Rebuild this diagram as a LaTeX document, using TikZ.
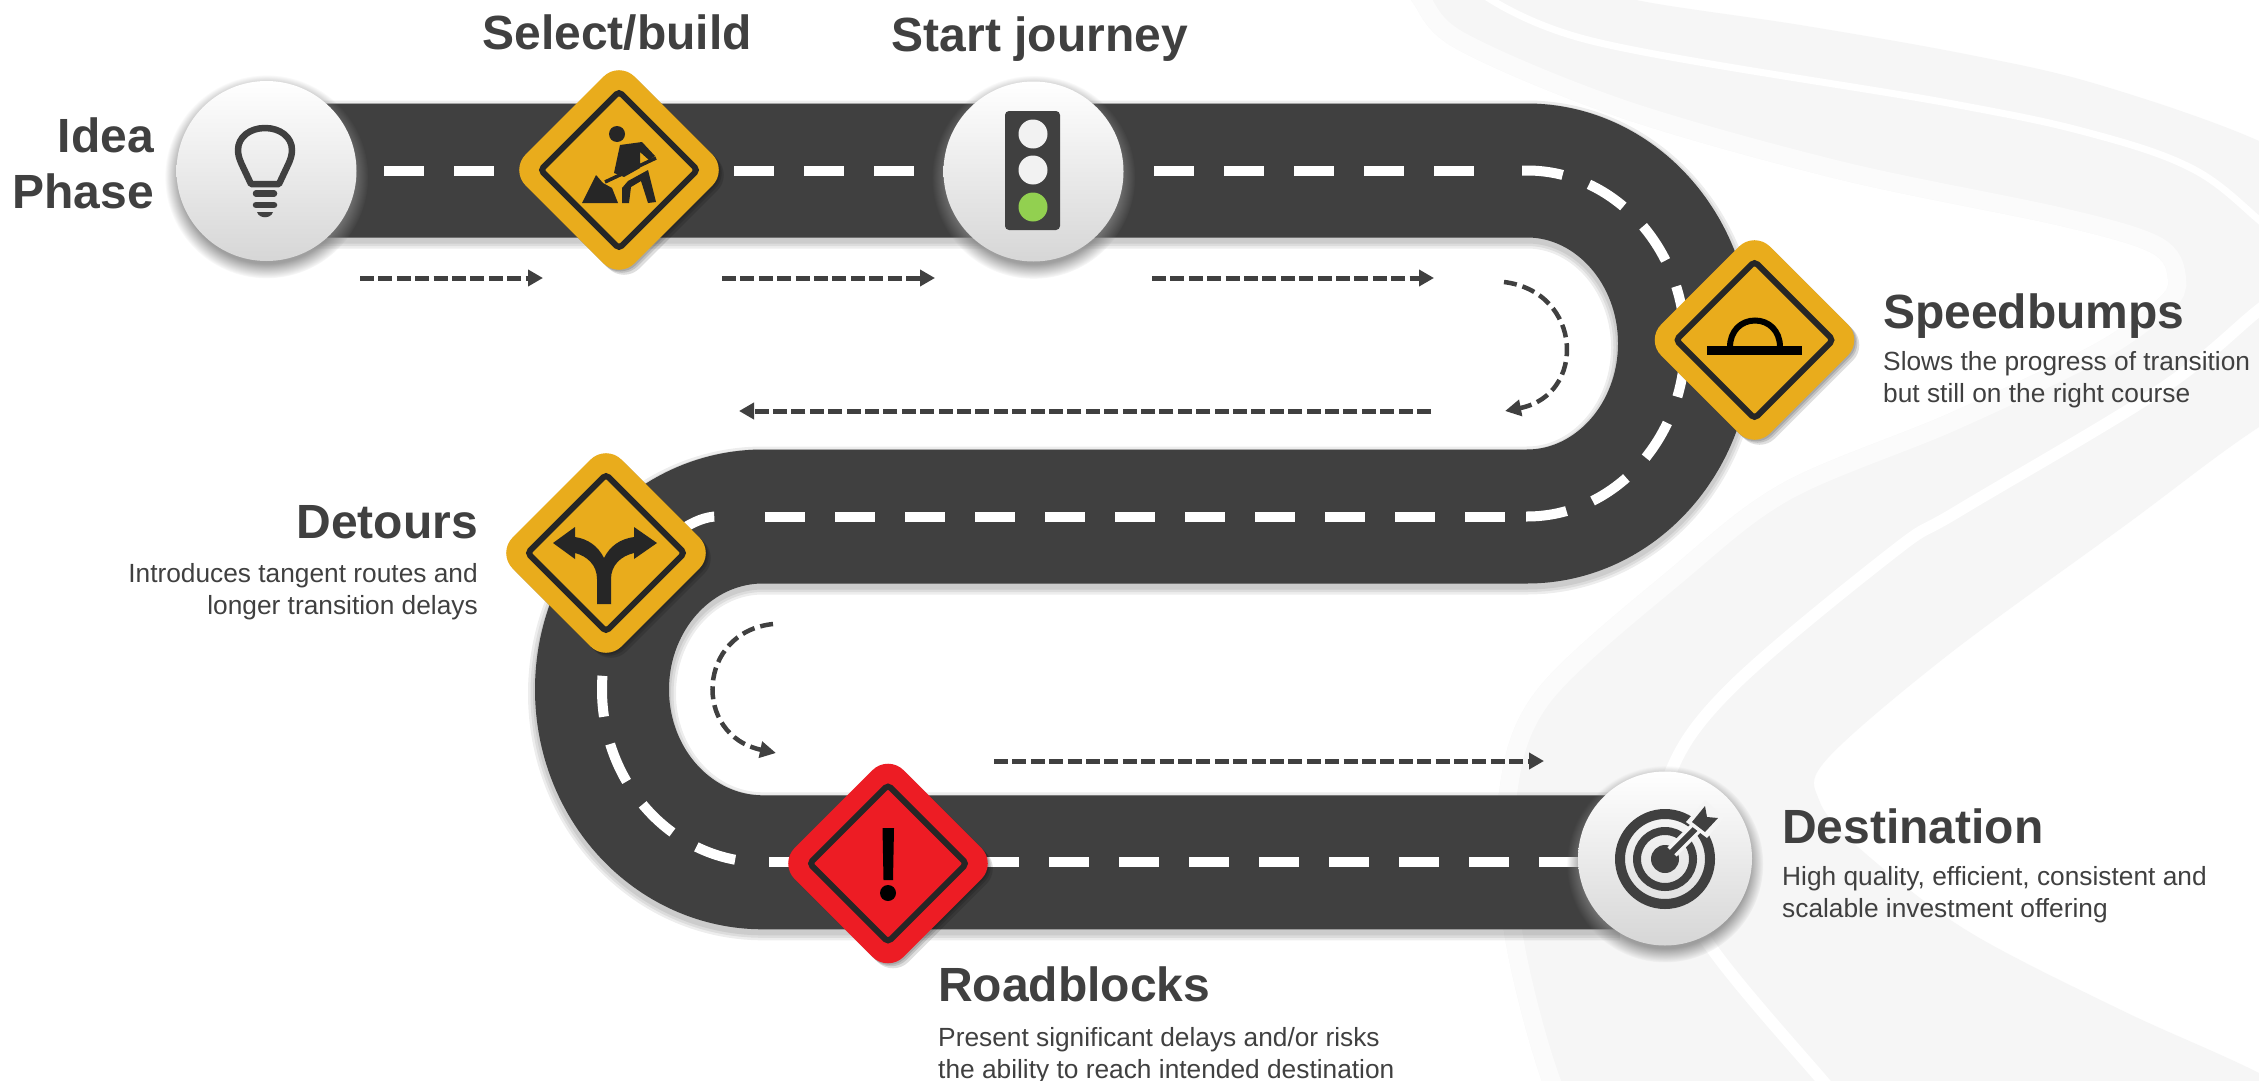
\documentclass[tikz,border=0pt]{standalone}
\usepackage{fontspec}
\setmainfont{Liberation Sans}
\usetikzlibrary{arrows.meta,shadows}
\definecolor{roadgray}{HTML}{404040}
\definecolor{bandgray}{HTML}{F6F6F6}
\definecolor{bandpale}{HTML}{FBFBFB}
\definecolor{signyellow}{HTML}{E9AC1C}
\definecolor{signred}{HTML}{ED1C24}
\definecolor{signdark}{HTML}{262626}
\definecolor{lampgreen}{HTML}{92D050}
\begin{document}
\begin{tikzpicture}[
  x=1pt,y=-1pt,
  band/.style={fill=bandgray,draw=none},
  bandline/.style={draw=white,line cap=round},
  roadbed/.style={draw=roadgray,line width=134pt},
  roadshade/.style={draw=black,opacity=0.07},
  lane/.style={draw=white,line width=10pt,dash pattern=on 40pt off 30pt},
  curvelane/.style={draw=white,line width=10pt,dash pattern=on 41pt off 28pt},
  softshadow/.style={general shadow={fill=black,opacity=0.13,shadow xshift=#1pt,shadow yshift=-#1pt}},
  signbox/.style={rectangle,rotate=45,minimum size=154pt,inner sep=0pt,rounded corners=22pt,fill=#1,softshadow=1.5,softshadow=3,softshadow=5},
  signline/.style={rectangle,rotate=45,minimum size=111pt,inner sep=0pt,rounded corners=4pt,draw=signdark,line width=6pt},
  disc/.style={circle,minimum size=180pt,inner sep=0pt,top color=white,bottom color=black!16,
    circular drop shadow={shadow xshift=0pt,shadow yshift=-5pt,shadow scale=1.13,opacity=0.75}},
  flowarrow/.style={draw=roadgray,line width=5pt,dash pattern=on 14pt off 4.4pt,-{Triangle[length=15pt,width=16pt]}},
  turnarrow/.style={draw=roadgray,line width=4.5pt,dash pattern=on 13pt off 6pt,-{Triangle[length=16pt,width=16pt]}},
  iconline/.style={draw=roadgray,line width=6.5pt},
  title/.style={font=\fontsize{48}{56}\selectfont\bfseries,text=roadgray,inner sep=0pt},
  subtext/.style={font=\fontsize{26.3}{32}\selectfont,text=roadgray,inner sep=0pt}
]
\useasboundingbox (0,0) rectangle (2259,1081);
\fill[white] (0,0) rectangle (2259,1081);

\def\roadline{(266,170.5) -- (1527,170.5) .. controls (1614,170.5) and (1685,248) .. (1685,343.5)
  .. controls (1685,439) and (1614,516.5) .. (1527,516.5) -- (763,516.5)
  .. controls (674,516.5) and (602,594) .. (602,689.5) .. controls (602,785) and (674,862.3) .. (763,862.3) -- (1620,862.3)}
\def\ribbon{plot[smooth cycle,tension=0.55] coordinates {(1560,-25) (1636,0) (1800,25) (1960,53) (2093,83) (2259,141) (2400,220)
  (2420,330) (2259,427) (2127,524) (1948,655) (1827,759) (1819,800) (1858,847) (1966,930) (2121,1010) (2259,1073) (2400,1150)
  (1590,1170) (1542,1081) (1504,931) (1499,793) (1537,690) (1674,566) (1783,483) (1948,414) (2093,345) (2157,300) (2168,279)
  (2150,252) (2057,225) (1838,179) (1619,117) (1455,48) (1411,0) (1390,-30)}}

% background ribbon
\begin{scope}
\clip (0,0) rectangle (2259,1081);
\fill[band] \ribbon;
\begin{scope}
\clip \ribbon;
\draw[bandpale,line width=36pt] plot[smooth,tension=0.55] coordinates {(1590,1170) (1542,1081) (1504,931) (1499,793) (1537,690) (1674,566) (1783,483) (1948,414) (2093,345) (2157,300) (2168,279)
  (2150,252) (2057,225) (1838,179) (1619,117) (1455,48) (1411,0) (1390,-30)};
\end{scope}
\draw[bandline,line width=7pt] plot[smooth,tension=0.6] coordinates {(1470,-15) (1592,41) (1948,103) (2093,134) (2193,169) (2259,220) (2300,260)};
\draw[bandline,line width=12pt] plot[smooth,tension=0.6] coordinates {(2300,280) (2259,310) (2160,390) (1960,510) (1893,552) (1729,690) (1668,779) (1665,860) (1713,950) (1822,1080) (1850,1110)};
\end{scope}

% road
\foreach \w in {14,9,4}{
  \draw[roadshade,line width={134pt+\w pt},yshift=-4pt] \roadline;
}
\draw[roadbed] \roadline;

% lane marks
\draw[lane] (384,170.5) -- (520,170.5);
\draw[lane] (734,170.5) -- (915,170.5);
\draw[lane] (1154,170.5) -- (1475,170.5);
\draw[curvelane] (1522,170.5) -- (1527,170.5) .. controls (1614,170.5) and (1685,248) .. (1685,343.5);
\draw[curvelane] (1526,516.5) -- (1527,516.5) .. controls (1614,516.5) and (1685,439) .. (1685,343.5);
\draw[lane] (765,516.5) -- (1505,516.5);
\draw[curvelane,dash phase=41pt] (763,862.3) .. controls (674,862.3) and (602,785) .. (602,689.5) .. controls (602,594) and (674,516.5) .. (717,516.5);
\draw[lane] (769,862.3) -- (1579,862.3);

% direction arrows
\coordinate (flowAs) at (360,278);
\coordinate (flowAe) at (543,278);
\coordinate (flowBs) at (722,278);
\coordinate (flowBe) at (935,278);
\coordinate (flowCs) at (1152,278);
\coordinate (flowCe) at (1434,278);
\coordinate (flowDs) at (1431,411);
\coordinate (flowDe) at (739,411);
\coordinate (flowEs) at (994,761);
\coordinate (flowEe) at (1544,761);
\coordinate (turnAs) at (1504,282);
\coordinate (turnAe) at (1505,411);
\coordinate (turnBs) at (773,624);
\coordinate (turnBe) at (776,753);
\draw[flowarrow] (flowAs) -- (flowAe);
\draw[flowarrow] (flowBs) -- (flowBe);
\draw[flowarrow] (flowCs) -- (flowCe);
\draw[flowarrow] (flowDs) -- (flowDe);
\draw[flowarrow] (flowEs) -- (flowEe);
\draw[turnarrow] (turnAs) .. controls (1583,292) and (1587,395) .. (turnAe);
\draw[turnarrow] (turnBs) .. controls (697,632) and (692,735) .. (turnBe);

% discs and signs
\node[disc] (ideadisc) at (266.5,171) {};
\node[disc] (startdisc) at (1033.5,171.5) {};
\node[disc,minimum size=174pt] (goaldisc) at (1665,858.5) {};
\foreach \nm/\cx/\cy/\col in {select/619/170/signyellow,bump/1754.5/340/signyellow,detour/606/553/signyellow,block/888/863.5/signred}{
  \node[signbox=\col] (\nm sign) at (\cx,\cy) {};
  \node[signline] (\nm line) at (\cx,\cy) {};
}

% bulb
\draw[iconline,line join=round] (251,184) -- (243,167) .. controls (238,157) and (238,152) .. (238,150)
  .. controls (238,137) and (250,128) .. (265,128) .. controls (280,128) and (292,137) .. (292,150)
  .. controls (292,152) and (292,157) .. (287,167) -- (279,184) -- cycle;
\draw[iconline,line cap=round] (256,193.5) -- (274,193.5);
\draw[iconline,line cap=round] (256,205) -- (274,205);
\fill[roadgray] (257,212) -- (273,212) .. controls (271,219) and (259,219) .. (257,212) -- cycle;

% worker
\fill[signdark] (617,134) circle[radius=8];
\fill[signdark] (620,145) -- (642,142) -- (655,156) -- (649,160) -- (640,152) -- (640,168) -- (624,177) -- (614,173) -- cycle;
\fill[signdark] (628,181) -- (648,170) -- (656,202) -- (648,203) -- (641,181) -- (631,187) -- (629,203) -- (622,203) -- (622,188) -- cycle;
\draw[signdark,line width=3.5pt] (656,158) -- (605,182);
\fill[signdark] (582,203) -- (596,175) -- (603,183) -- (612,188) -- (618,203) -- cycle;

% traffic light
\fill[roadgray,rounded corners=4pt] (1005,111) rectangle (1060,230);
\foreach \ly/\lc in {134/black!5,170/black!5,207/lampgreen}{
  \fill[\lc] (1033,\ly) circle[radius=14.5];
}

% bump
\fill[black] (1707,346) rectangle (1802,355);
\draw[black,line width=6pt] (1730,347) .. controls (1730,331) and (1741,320.5) .. (1755,320.5) .. controls (1769,320.5) and (1780,331) .. (1780,347);

% fork
\fill[signdark] (597,604) -- (597,579) .. controls (597,565) and (587,556) .. (575,553) -- (575,559) -- (553,543) -- (575,527) -- (575,537)
  .. controls (588,539) and (598,546) .. (604,558) .. controls (610,546) and (620,539) .. (634,537) -- (634,527) -- (657,543) -- (634,559)
  -- (634,553) .. controls (621,556) and (611,565) .. (611,579) -- (611,604) -- cycle;

% exclamation
\fill[black] (882.5,828) -- (894,828) -- (893,880) -- (883.5,880) -- cycle;
\fill[black] (888,893) circle[radius=8];

% target
\foreach \r/\lw in {45/10,28/8}{
  \draw[roadgray,line width=\lw pt] (1665,859) circle[radius=\r];
}
\fill[roadgray] (1665,859) circle[radius=14];
\draw[black!4,line width=13pt] (1672,852) -- (1702,822);
\draw[roadgray,line width=6pt] (1665,859) -- (1700,824);
\fill[black!4] (1686,822) -- (1705,800) -- (1724,818) -- (1707,838) -- cycle;
\fill[roadgray] (1692,822) -- (1705,806) -- (1707,817) -- (1718,818) -- (1705,832) -- cycle;

% texts
\node[title,anchor=base east] (ideatext) at (154,152) {Idea};
\node[title,anchor=base east] (phasetext) at (154,208) {Phase};
\node[title,anchor=base] (selecttext) at (617,49) {Select/build};
\node[title,anchor=base] (starttext) at (1040,52) {Start journey};
\node[title,anchor=base west] (bumptext) at (1883,328) {Speedbumps};
\node[subtext,anchor=base west,align=left] (bumpnote) at (1883,402) {Slows the progress of transition\\but still on the right course};
\node[title,anchor=base east] (detourtext) at (478,538) {Detours};
\node[subtext,anchor=base east,align=right] (detournote) at (478,614) {Introduces tangent routes and\\longer transition delays};
\node[title,anchor=base west] (goaltext) at (1782,843) {Destination};
\node[subtext,anchor=base west,align=left] (goalnote) at (1782,917) {High quality, efficient, consistent and\\scalable investment offering};
\node[title,anchor=base west] (blocktext) at (938,1001) {Roadblocks};
\node[subtext,anchor=base west,align=left] (blocknote) at (938,1078) {Present significant delays and/or risks\\the ability to reach intended destination};

\end{tikzpicture}
\end{document}
